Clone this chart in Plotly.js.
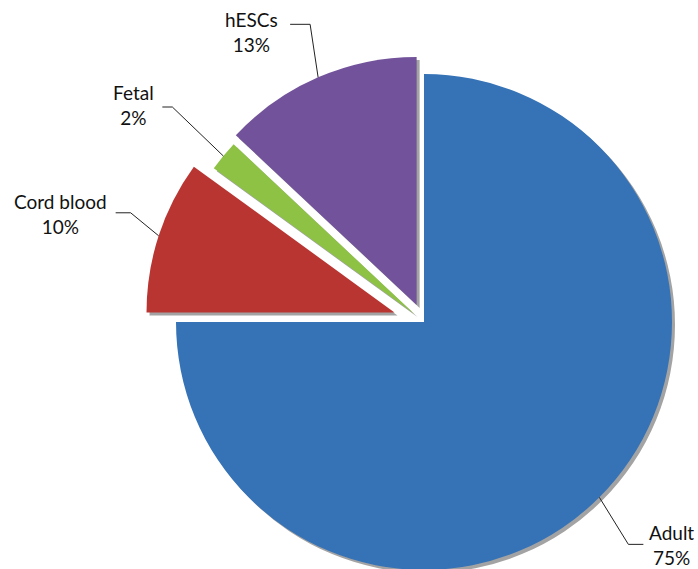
<!DOCTYPE html>
<html><head><meta charset="utf-8">
<script src="https://cdn.plot.ly/plotly-3.0.1.min.js"></script>
<style>html,body{margin:0;padding:0;overflow:hidden;background:#fff}#chart{width:740px;height:660px}</style>
</head><body><div id="chart"></div>
<script>
// data
const labels = ['Adult', 'Cord blood', 'Fetal', 'hESCs'];
const values = [75, 10, 2, 13];

// style
const colors = ['#3572b6', '#b83532', '#8dc245', '#72529a'];
const pulls = [0, 0.125, 0.05, 0.075];
const W = 740, H = 660, CX = 424, CY = 322, R = 248, SH = 3;
// leader styling: elbow offset from slice edge, horizontal segment, text gap, text dy
const leaderStyle = [
  {elbow: [29, 47], seg: 15, side: 'right', gap: 4, tdy: 1},
  {elbow: [-28, -23], seg: 15, side: 'left', gap: 7, tdy: 1},
  {elbow: [-51, -49], seg: 10, side: 'left', gap: 6, tdy: -2},
  {elbow: [-8, -53], seg: 20, side: 'left', gap: 10, tdy: 8}
];

const maxPull = Math.max(...pulls);
const half = R * (1 + maxPull);
function domainAt(cx, cy) {
  return {x: [(cx - half) / W, (cx + half) / W], y: [1 - (cy + half) / H, 1 - (cy - half) / H]};
}
const px = x => x / W, py = y => 1 - y / H;

const base = {
  type: 'pie', labels: labels, values: values, sort: false, direction: 'clockwise',
  rotation: 0, pull: pulls, textinfo: 'none', hoverinfo: 'skip', showlegend: false
};
const shadow = Object.assign({}, base, {
  domain: domainAt(CX + SH, CY + SH),
  marker: {colors: labels.map(() => '#a3a3a3'), line: {width: 0}}
});
const main = Object.assign({}, base, {
  domain: domainAt(CX, CY),
  marker: {colors: colors, line: {width: 0}}
});

const total = values.reduce((a, b) => a + b, 0);
const annotations = [], shapes = [];
let cum = 0;
values.forEach((v, i) => {
  const mid = ((cum + v / 2) / total) * 2 * Math.PI;
  cum += v;
  const rr = (1 + pulls[i]) * R;
  const ex = CX + rr * Math.sin(mid), ey = CY - rr * Math.cos(mid);
  const st = leaderStyle[i];
  const bx = ex + st.elbow[0], by = ey + st.elbow[1];
  const dir = st.side === 'right' ? 1 : -1;
  const endx = bx + dir * st.seg;
  shapes.push({
    type: 'path', xref: 'paper', yref: 'paper',
    path: `M ${px(ex)} ${py(ey)} L ${px(bx)} ${py(by)} L ${px(endx)} ${py(by)}`,
    line: {color: '#222', width: 1}
  });
  annotations.push({
    xref: 'paper', yref: 'paper', x: px(endx + dir * st.gap), y: py(by + st.tdy),
    xanchor: st.side === 'right' ? 'left' : 'right', yanchor: 'middle',
    text: labels[i] + '<br>' + Math.round(v / total * 100) + '%',
    showarrow: false, align: 'center',
    font: {family: 'Lato, sans-serif', size: 19, color: '#111'}
  });
});

Plotly.newPlot('chart', [shadow, main], {
  width: W, height: H, margin: {l: 0, r: 0, t: 0, b: 0},
  paper_bgcolor: '#fff', plot_bgcolor: '#fff',
  annotations: annotations, shapes: shapes
}, {displayModeBar: false, staticPlot: true});
</script></body></html>
